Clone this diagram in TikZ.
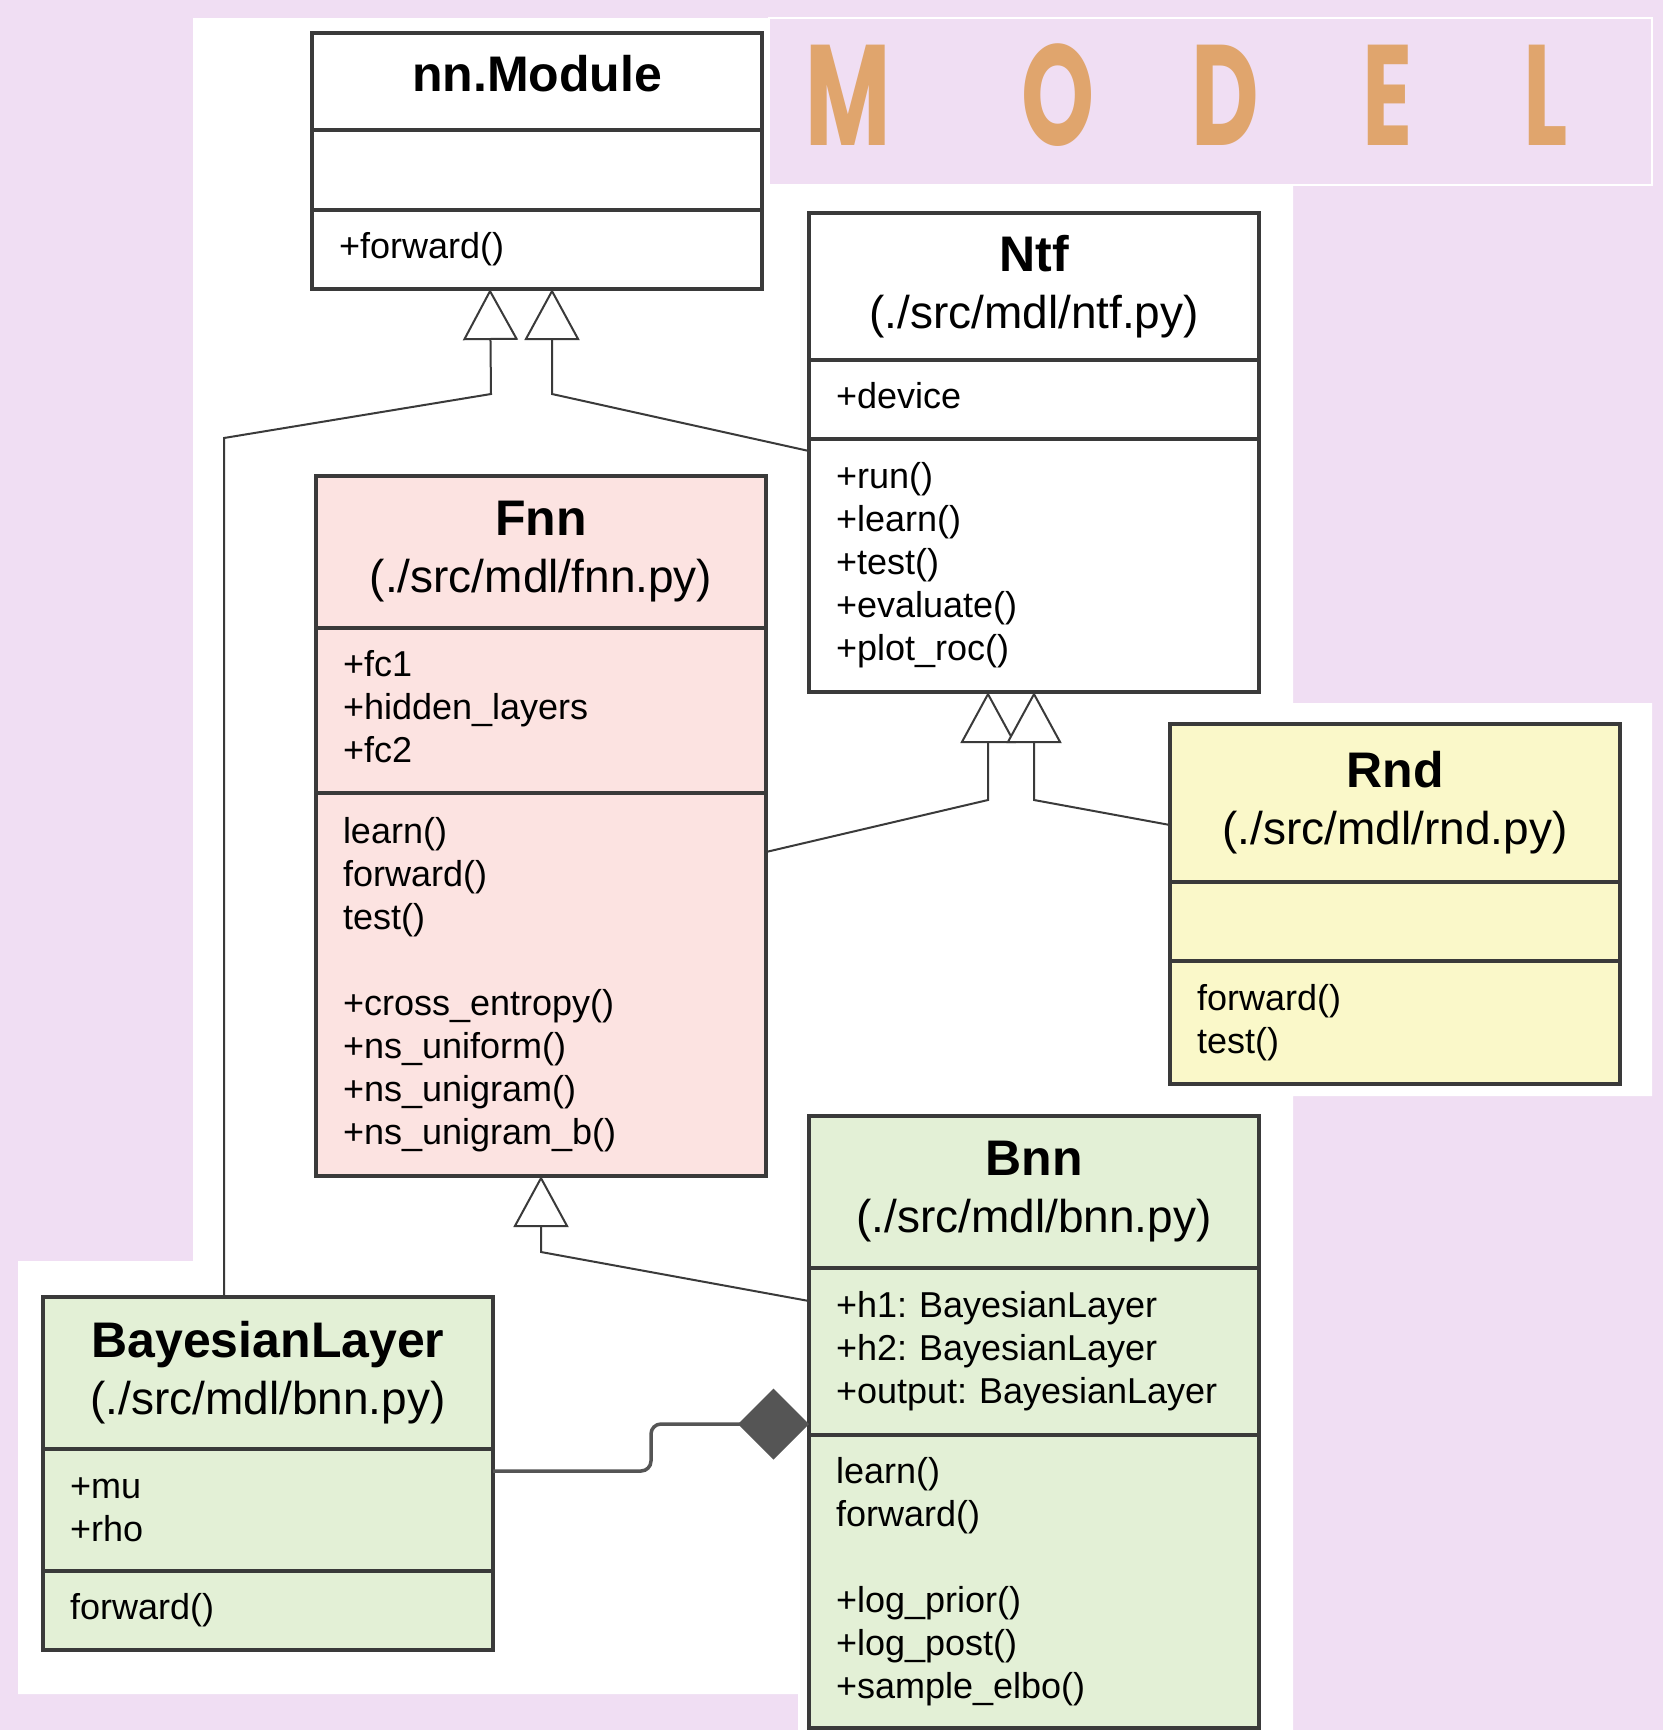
\documentclass[tikz,border=0pt]{standalone}
\usepackage{fontspec}
\setmainfont{Liberation Sans}
\newfontfamily\modelfont{Poppins}[FakeStretch=0.65]
\usetikzlibrary{positioning, arrows.meta}

\definecolor{lavender}{HTML}{F0DEF3}
\definecolor{boxline}{HTML}{3A3A3A}
\definecolor{fnnfill}{HTML}{FCE3E1}
\definecolor{rndfill}{HTML}{FAF8C9}
\definecolor{bnnfill}{HTML}{E3F0D6}
\definecolor{lettercol}{HTML}{E0A56D}
\definecolor{diamondgray}{HTML}{555555}

\newcommand{\classname}[2]{{\fontsize{50}{57}\selectfont\bfseries #1}\\#2}

\tikzset{
  part/.style={draw=boxline, line width=3.5pt, outer sep=0pt, inner sep=0pt, minimum width=450pt, fill=white},
  head/.style={part, align=center, text width=440pt, font=\fontsize{46}{57}\selectfont},
  members/.style={part, align=left, text width=396pt, font=\fontsize{36}{43}\selectfont\frenchspacing},
  inherit/.style={draw=boxline, line width=2pt, line join=miter, -{Triangle[length=51pt, width=55pt, fill=white]}},
  compose/.style={draw=diamondgray, line width=3.5pt, rounded corners=10pt, -{Diamond[length=71pt, width=71pt]}},
  modelletter/.style={text=lettercol, inner sep=0pt, font=\modelfont\bfseries\fontsize{143}{143}\selectfont},
}

\begin{document}
\begin{tikzpicture}[x=1pt, y=-1pt]
\useasboundingbox (0,0) rectangle (1663,1730);

% background
\fill[lavender] (0,0) rectangle (1663,1730);
\fill[white] (193,18) -- (769,18) -- (769,185) -- (1293,185) -- (1293,703) -- (1652,703)
  -- (1652,1096) -- (1293,1096) -- (1293,1730) -- (798,1730) -- (798,1694) -- (18,1694)
  -- (18,1261) -- (193,1261) -- cycle;
\filldraw[fill=lavender, draw=white, line width=2pt] (769,18) rectangle (1652,185);

% title
\foreach \ch/\xx in {M/848, O/1058, D/1225, E/1388, L/1546}
  \node[modelletter] (letter\ch) at (\xx,95) {\ch};

% nn.Module
\node[head, anchor=north west, minimum height=97pt, text depth=16pt] (nnhead) at (312,33) {\fontsize{50}{57}\selectfont\bfseries nn.Module};
\node[members, below=0pt of nnhead, minimum height=80pt] (nnattr) {};
\node[members, below=0pt of nnattr, minimum height=79pt] (nnops) {+forward()};

% Ntf
\node[head, anchor=north west, minimum height=147pt] (ntfhead) at (809,213) {\classname{Ntf}{(./src/mdl/ntf.py)}};
\node[members, below=0pt of ntfhead, minimum height=79pt, text depth=8pt] (ntfattr) {+device};
\node[members, below=0pt of ntfattr, minimum height=253pt] (ntfops) {+run()\\+learn()\\+test()\\+evaluate()\\+plot\_roc()};

% Fnn
\node[head, fill=fnnfill, anchor=north west, minimum height=152pt] (fnnhead) at (316,476) {\classname{Fnn}{(./src/mdl/fnn.py)}};
\node[members, fill=fnnfill, below=0pt of fnnhead, minimum height=165pt] (fnnattr) {+fc1\\+hidden\_layers\\+fc2\vphantom{\_}};
\node[members, fill=fnnfill, below=0pt of fnnattr, minimum height=383pt] (fnnops) {learn()\\forward()\\test()\\[43pt]+cross\_entropy()\\+ns\_uniform()\\+ns\_unigram()\\+ns\_unigram\_b()};

% Rnd
\node[head, fill=rndfill, anchor=north west, minimum height=158pt] (rndhead) at (1170,724) {\classname{Rnd}{(./src/mdl/rnd.py)}};
\node[members, fill=rndfill, below=0pt of rndhead, minimum height=79pt] (rndattr) {};
\node[members, fill=rndfill, below=0pt of rndattr, minimum height=123pt] (rndops) {forward()\\test()};

% Bnn
\node[head, fill=bnnfill, anchor=north west, minimum height=152pt] (bnnhead) at (809,1116) {\classname{Bnn}{(./src/mdl/bnn.py)}};
\node[members, fill=bnnfill, below=0pt of bnnhead, minimum height=167pt] (bnnattr) {+h1: BayesianLayer\\+h2: BayesianLayer\\+output: BayesianLayer};
\node[members, fill=bnnfill, below=0pt of bnnattr, minimum height=293pt] (bnnops) {learn()\\forward()\\[43pt]+log\_prior()\\+log\_post()\\+sample\_elbo()};

% BayesianLayer
\node[head, fill=bnnfill, anchor=north west, minimum height=152pt] (blhead) at (43,1297) {\classname{BayesianLayer}{(./src/mdl/bnn.py)}};
\node[members, fill=bnnfill, below=0pt of blhead, minimum height=122pt] (blattr) {+mu\\+rho};
\node[members, fill=bnnfill, below=0pt of blattr, minimum height=79pt] (blops) {forward()};

% inheritance
\draw[inherit] ([xshift=181pt]blhead.north west) -- ++(0,-859) -- ([xshift=-46pt, yshift=-105pt]nnops.south) -- ([xshift=-47pt]nnops.south);
\draw[inherit] ([yshift=-12pt]ntfops.north west) -- ([xshift=15pt, yshift=-105pt]nnops.south) -- ([xshift=15pt]nnops.south);
\draw[inherit] ([yshift=-59pt]fnnops.north east) -- ([xshift=-46pt, yshift=-108pt]ntfops.south) -- ([xshift=-46pt]ntfops.south);
\draw[inherit] ([yshift=-101pt]rndhead.north west) -- ([yshift=-108pt]ntfops.south) -- (ntfops.south);
\draw[inherit] ([yshift=-33pt]bnnattr.north west) -- ([yshift=-76pt]fnnops.south) -- (fnnops.south);

% composition
\draw[compose] ([yshift=-22pt]blattr.north east) -- ++(158,0) -- ++(0,-47) -- ([yshift=-156pt]bnnattr.north west);
\end{tikzpicture}
\end{document}
